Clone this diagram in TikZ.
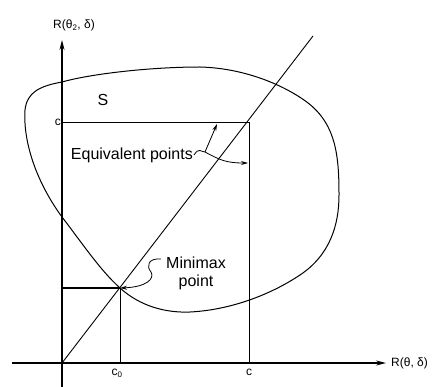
\documentclass[tikz,border=0pt]{standalone}
\usepackage{fontspec}
\setmainfont{Liberation Sans}
\usetikzlibrary{arrows.meta,positioning}

\begin{document}
\begin{tikzpicture}[x=1pt, y=-1pt,
  axis/.style={line width=1.3pt},
  guide/.style={line width=0.9pt},
  lbl/.style={font=\fontsize{16}{18}\selectfont, inner sep=1pt, align=center},
  small/.style={font=\fontsize{12}{14}\selectfont, inner sep=1pt},
  pointer/.style={line width=0.8pt, -{Stealth[length=7pt,width=4pt]}}
]
  \useasboundingbox (0,0) rectangle (438,387);
  % axes
  \coordinate (O) at (62,363);
  \coordinate (ybot) at (62,387);
  \coordinate (ytop) at (62,40);
  \coordinate (xleft) at (12,363);
  \coordinate (xright) at (386,363);
  \draw[axis, -{Stealth[length=10pt,width=5pt]}] (ybot) -- (ytop);
  \draw[axis, -{Stealth[length=10pt,width=5pt]}] (xleft) -- (xright);
  \node[small, anchor=south] (ylab) at (74,32) {R(θ\textsubscript{2}, δ)};
  \node[small, anchor=west] (xlab) at (390,363) {R(θ, δ)};

  % risk set S
  \draw[line width=1pt] (62,82)
    .. controls (40,86) and (27,92) .. (25,110)
    .. controls (23,140) and (35,180) .. (62,217)
    .. controls (82,243) and (100,270) .. (120,288)
    .. controls (140,306) and (165,313) .. (190,312)
    .. controls (230,310) and (270,295) .. (300,275)
    .. controls (330,255) and (339,225) .. (339,195)
    .. controls (339,155) and (336,122) .. (304,100)
    .. controls (278,82) and (240,68) .. (200,67)
    .. controls (150,67) and (90,74) .. (62,82) -- cycle;
  \node[lbl] (S) at (103,100) {S};

  % diagonal and equal risk lines
  \coordinate (diag) at (313,36);
  \draw[guide] (O) -- (diag);
  \coordinate (corner) at (249,122);
  \coordinate (cy) at (62,122);
  \coordinate (cx) at (249,363);
  \draw[guide] (cy) -- (corner) -- (cx);
  \node[small, anchor=east] (clab) at (cy) {c};
  \node[small, anchor=north] (cxlab) at (249,368) {c};

  % minimax point
  \coordinate (mm) at (120,288);
  \coordinate (mmy) at (62,288);
  \coordinate (mmx) at (120,363);
  \draw[line width=2pt] (mmy) -- (mm);
  \draw[guide] (mm) -- (mmx);
  \node[small, anchor=north] (c0lab) at (117,368) {c\textsubscript{0}};

  \node[lbl] (mmtxt) at (196,273) {Minimax\\point};
  \draw[pointer] (161,259) .. controls (148,258) and (146,266) .. (151,272)
    .. controls (155,279) and (146,287) .. (mm);

  % equivalent points
  \node[lbl, anchor=east] (eq) at (194,155) {Equivalent points};
  \coordinate (sq) at (205,152);
  \draw[line width=0.8pt] (eq.east) .. controls (199,147) and (201,152) .. (sq);
  \draw[pointer] (sq) -- (217,124);
  \draw[pointer] (sq) .. controls (220,160) and (226,163) .. (248,163);
\end{tikzpicture}
\end{document}
